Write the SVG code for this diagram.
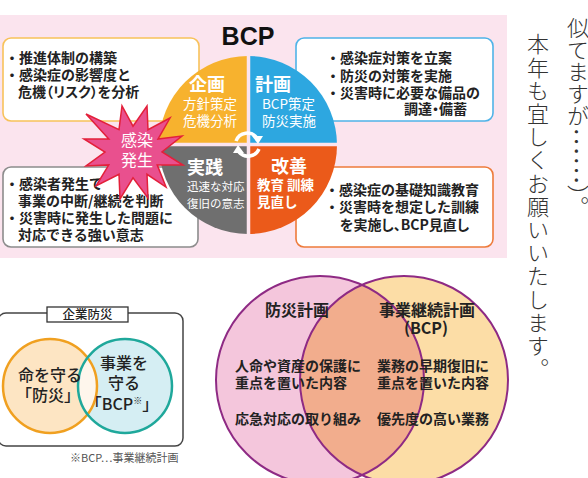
<svg xmlns="http://www.w3.org/2000/svg" width="588" height="478" viewBox="0 0 588 478">
<style>
text{font-family:"Noto Sans CJK JP","Noto Sans",sans-serif;}
.bx{fill:#fff;stroke-width:1.6;}
.bt{font-size:14px;font-weight:bold;fill:#222;}
.qh{font-size:18px;font-weight:bold;fill:#fff;}
.qs{font-size:13.5px;fill:#fff;}
.vt{font-size:14px;font-weight:bold;fill:#222;}
.vh{font-size:16px;font-weight:bold;fill:#222;}
.lv{font-size:16px;font-weight:500;fill:#222;text-anchor:middle;}
.vert{font-size:22px;fill:#333;writing-mode:vertical-rl;font-weight:300;}
.palt{font-feature-settings:"palt";}
</style>
<defs>
<clipPath id="cpL"><circle cx="50" cy="386" r="47"/></clipPath>
<clipPath id="cpR"><circle cx="320" cy="380" r="104"/></clipPath>
</defs>

<rect x="0" y="15" width="507" height="243" fill="#FBE4EE"/>

<g id="box-plan-left">
<rect class="bx" x="3" y="38" width="196" height="83" rx="8" stroke="#F8C25A"/>
<text class="bt"><tspan x="5" y="63">・推進体制の構築</tspan><tspan x="5" y="80">・感染症の影響度と</tspan><tspan x="18" y="97" class="palt">危機（リスク）を分析</tspan></text>
</g>
<g id="box-plan-right">
<rect class="bx" x="296" y="38" width="197" height="83" rx="8" stroke="#4FB3E8"/>
<text class="bt"><tspan x="326" y="63">・感染症対策を立案</tspan><tspan x="326" y="81">・防災の対策を実施</tspan><tspan x="326" y="98">・災害時に必要な備品の</tspan><tspan x="404" y="114" class="palt">調達・備蓄</tspan></text>
</g>
<g id="box-do">
<rect class="bx" x="3" y="167" width="195" height="80" rx="8" stroke="#8C8C8C"/>
<text class="bt"><tspan x="5" y="189">・感染者発生で</tspan><tspan x="18" y="206">事業の中断/継続を判断</tspan><tspan x="5" y="223">・災害時に発生した問題に</tspan><tspan x="18" y="240">対応できる強い意志</tspan></text>
</g>
<g id="box-act">
<rect class="bx" x="296" y="167" width="197" height="80" rx="8" stroke="#EE7B3B"/>
<text class="bt"><tspan x="325" y="195">・感染症の基礎知識教育</tspan><tspan x="325" y="212">・災害時を想定した訓練</tspan><tspan x="340" y="230" class="palt">を実施し、BCP見直し</tspan></text>
</g>

<g id="bcp-cycle">
<text x="248" y="45" text-anchor="middle" style="font-family:'Liberation Sans',sans-serif;font-size:25px;font-weight:bold;fill:#111">BCP</text>
<path d="M248,145 L159,145 A89,89 0 0 1 248,56 Z" fill="#F7B22E"/>
<path d="M248,145 L248,56 A89,89 0 0 1 337,145 Z" fill="#2DA7E0"/>
<path d="M248,145 L337,145 A89,89 0 0 1 248,234 Z" fill="#EB5A1A"/>
<path d="M248,145 L248,234 A89,89 0 0 1 159,145 Z" fill="#6F6F6F"/>
<line x1="248.5" y1="54" x2="248.5" y2="236" stroke="#FBE4EE" stroke-width="3.5"/>
<line x1="157" y1="144.5" x2="339" y2="144.5" stroke="#FBE4EE" stroke-width="3.5"/>
<text class="qh" x="207" y="91" text-anchor="middle">企画</text>
<text class="qs" text-anchor="middle"><tspan x="210" y="109">方針策定</tspan><tspan x="210" y="126">危機分析</tspan></text>
<text class="qh" x="255" y="91">計画</text>
<text class="qs"><tspan x="262" y="109">BCP策定</tspan><tspan x="262" y="126">防災実施</tspan></text>
<text class="qh" x="187" y="174">実践</text>
<text class="qs" style="font-size:11.5px"><tspan x="187" y="191">迅速な対応</tspan><tspan x="187" y="208">復旧の意志</tspan></text>
<text class="qh" x="271" y="173">改善</text>
<text class="qs" font-weight="bold"><tspan x="257" y="190">教育 訓練</tspan><tspan x="257" y="207">見直し</tspan></text>
</g>

<g id="connectors" fill="none" stroke="#fff" stroke-width="3.5">
<path d="M236,141 A12,12 0 0 1 257,138"/>
<polygon points="252,136 263,136 258,144" fill="#fff" stroke="none"/>
<path d="M259,149 A12,12 0 0 1 239,152"/>
<polygon points="233,153 244,153 238,145" fill="#fff" stroke="none"/>
</g>

<g id="burst">
<polygon points="147,106 148,129.7 170,118 158,139.1 182,136 162,152 183,165 157.2,164.9 166,187 147,174.3 148,198 133,177.8 120,199 119,174.3 96,186 108.8,164.9 86,166 105,152 84,139 108.8,139.1 86,114 119,129.7 122,106 133,126.2" fill="#E9508E" stroke="#E3203A" stroke-width="1.5" stroke-linejoin="miter"/>
<text text-anchor="middle" style="font-size:16px;fill:#fff"><tspan x="137" y="146">感染</tspan><tspan x="137" y="166">発生</tspan></text>
</g>

<g id="kigyo-bousai">
<rect x="-2" y="313" width="185" height="133" rx="8" fill="none" stroke="#444" stroke-width="1.5"/>
<rect x="47" y="307" width="81" height="15" fill="#fff" stroke="#333" stroke-width="1.3"/>
<text x="87.5" y="319" text-anchor="middle" style="font-size:12.5px;font-weight:500;fill:#222">企業防災</text>
<circle cx="50" cy="386" r="47" fill="#FDE5C3"/>
<circle cx="125" cy="386" r="47" fill="#D5EEF3"/>
<circle cx="125" cy="386" r="47" fill="#FEF6EC" clip-path="url(#cpL)"/>
<circle cx="50" cy="386" r="47" fill="none" stroke="#F0A020" stroke-width="2.5"/>
<circle cx="125" cy="386" r="47" fill="none" stroke="#1FA89B" stroke-width="2.5"/>
<text class="lv"><tspan x="50" y="381">命を守る</tspan><tspan x="48" y="401">「防災」</tspan></text>
<text class="lv"><tspan x="124" y="369">事業を</tspan><tspan x="124" y="389">守る</tspan><tspan x="122" y="410">「BCP</tspan><tspan style="font-size:9px" dy="-6">※</tspan><tspan dy="6">」</tspan></text>
<text x="70" y="462" style="font-size:11px;fill:#555">※BCP⋯事業継続計画</text>
</g>

<g id="venn-plans">
<circle cx="320" cy="380" r="104" fill="#F4C6DC"/>
<circle cx="404" cy="380" r="104" fill="#FCDDA6"/>
<circle cx="404" cy="380" r="104" fill="#F2AD8D" clip-path="url(#cpR)"/>
<circle cx="320" cy="380" r="104" fill="none" stroke="#8E2A84" stroke-width="2"/>
<circle cx="404" cy="380" r="104" fill="none" stroke="#8E2A84" stroke-width="2"/>
<text class="vh" x="297" y="316" text-anchor="middle">防災計画</text>
<text class="vh" text-anchor="middle"><tspan x="427" y="316">事業継続計画</tspan><tspan x="426" y="334">(BCP)</tspan></text>
<text class="vt"><tspan x="235" y="371">人命や資産の保護に</tspan><tspan x="235" y="388">重点を置いた内容</tspan></text>
<text class="vt" x="235" y="424">応急対応の取り組み</text>
<text class="vt"><tspan x="377" y="371">業務の早期復旧に</tspan><tspan x="377" y="388">重点を置いた内容</tspan></text>
<text class="vt" x="377" y="424">優先度の高い業務</text>
</g>

<g id="vertical-text">
<text class="vert" x="578" y="17">似てますが<tspan style="font-size:29px">……</tspan>）。</text>
<text class="vert" x="538" y="33" letter-spacing="1.2">本年も宜しくお願いいたします。</text>
</g>
</svg>
